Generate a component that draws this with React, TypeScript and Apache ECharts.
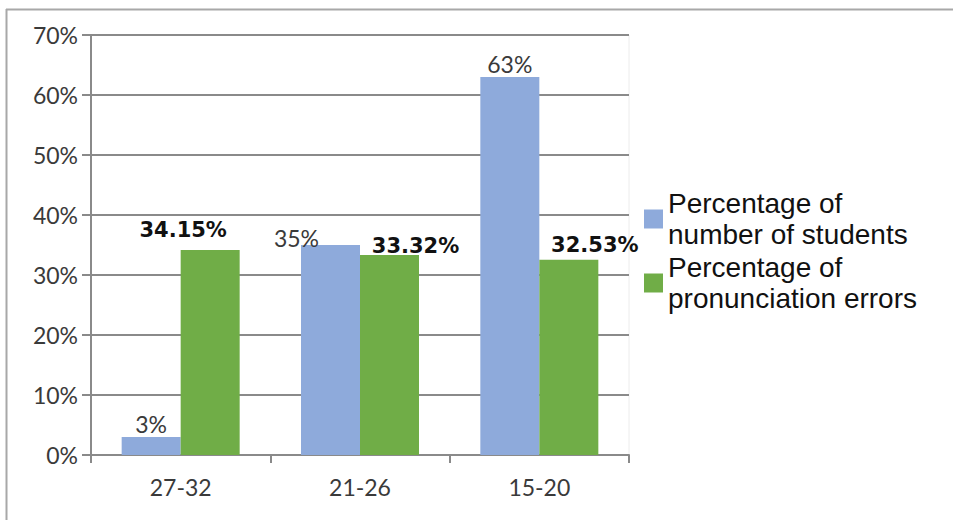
import React, { useEffect, useRef } from "react";
import * as echarts from "echarts";

// Age groups on the category axis
const categories = ["27-32", "21-26", "15-20"];

// Share of students in each age group (%)
const studentShare = [3, 35, 63];

// Share of pronunciation errors in each age group (%)
const errorShare = [34.15, 33.32, 32.53];

// Value axis range and step (%)
const yMin = 0;
const yMax = 70;
const yStep = 10;

const seriesNames = [
  "Percentage of\nnumber of students",
  "Percentage of\npronunciation errors",
];

// Per-bar nudges for the value labels [dx, dy]
const studentLabelOffsets = [
  [0, 3],
  [-34, 9],
  [0, 3],
];
const errorLabelOffsets = [
  [-27, -5],
  [26, 6],
  [26, 1],
];

const BLUE = "#8eaadb";
const GREEN = "#70ad47";
const AXIS_GRAY = "#8a8a8a";
const TICK_FONT = "Lato, 'Open Sans', sans-serif";

export default function App() {
  const ref = useRef<HTMLDivElement>(null);

  useEffect(() => {
    if (!ref.current) return;
    const chart = echarts.init(ref.current, undefined, { renderer: "svg" });

    chart.setOption({
      animation: false,
      backgroundColor: "#ffffff",
      grid: {
        left: 91,
        right: 324,
        top: 35,
        bottom: 65,
        show: true,
        borderColor: "#ececec",
        borderWidth: 1,
      },
      legend: {
        orient: "vertical",
        left: 644,
        top: 188,
        padding: 0,
        itemGap: 2,
        itemWidth: 19,
        itemHeight: 19,
        icon: "rect",
        textStyle: {
          fontFamily: "'Liberation Sans', Arial, sans-serif",
          fontSize: 28,
          lineHeight: 31,
          color: "#111111",
        },
        data: seriesNames,
      },
      xAxis: {
        type: "category",
        data: categories,
        axisLine: { lineStyle: { color: AXIS_GRAY, width: 2 } },
        axisTick: { show: true, length: 8, lineStyle: { color: AXIS_GRAY, width: 2 } },
        axisLabel: {
          margin: 20,
          fontFamily: TICK_FONT,
          fontSize: 23,
          color: "#3a3a3a",
        },
      },
      yAxis: {
        type: "value",
        min: yMin,
        max: yMax,
        interval: yStep,
        axisLine: { show: true, lineStyle: { color: AXIS_GRAY, width: 2 } },
        axisTick: { show: true, length: 9, lineStyle: { color: AXIS_GRAY, width: 2 } },
        splitLine: { lineStyle: { color: AXIS_GRAY, width: 2 } },
        axisLabel: {
          margin: 13,
          formatter: "{value}%",
          fontFamily: TICK_FONT,
          fontSize: 23,
          color: "#3a3a3a",
        },
      },
      series: [
        {
          name: seriesNames[0],
          type: "bar",
          barWidth: 59,
          barGap: "0%",
          itemStyle: { color: BLUE },
          label: {
            show: true,
            position: "top",
            fontFamily: TICK_FONT,
            fontSize: 23,
            color: "#3a3a3a",
            formatter: (p: any) => `${p.value}%`,
          },
          data: studentShare.map((v, i) => ({
            value: v,
            label: { offset: studentLabelOffsets[i] },
          })),
        },
        {
          name: seriesNames[1],
          type: "bar",
          barWidth: 59,
          barGap: "0%",
          itemStyle: { color: GREEN },
          label: {
            show: true,
            position: "top",
            fontFamily: "'DejaVu Sans', Verdana, sans-serif",
            fontWeight: "bold",
            fontSize: 21,
            color: "#111111",
            formatter: (p: any) => `${Number(p.value).toFixed(2)}%`,
          },
          data: errorShare.map((v, i) => ({
            value: v,
            label: { offset: errorLabelOffsets[i] },
          })),
        },
      ],
      graphic: [
        {
          type: "line",
          silent: true,
          shape: { x1: 6, y1: 9.5, x2: 953, y2: 9.5 },
          style: { stroke: "#a8a8a8", lineWidth: 2 },
        },
        {
          type: "line",
          silent: true,
          shape: { x1: 6.5, y1: 9, x2: 6.5, y2: 520 },
          style: { stroke: "#a8a8a8", lineWidth: 2 },
        },
      ],
    });

    return () => chart.dispose();
  }, []);

  return (
    <div
      ref={ref}
      style={{ position: "absolute", left: 0, top: 0, width: 953, height: 520 }}
    />
  );
}
